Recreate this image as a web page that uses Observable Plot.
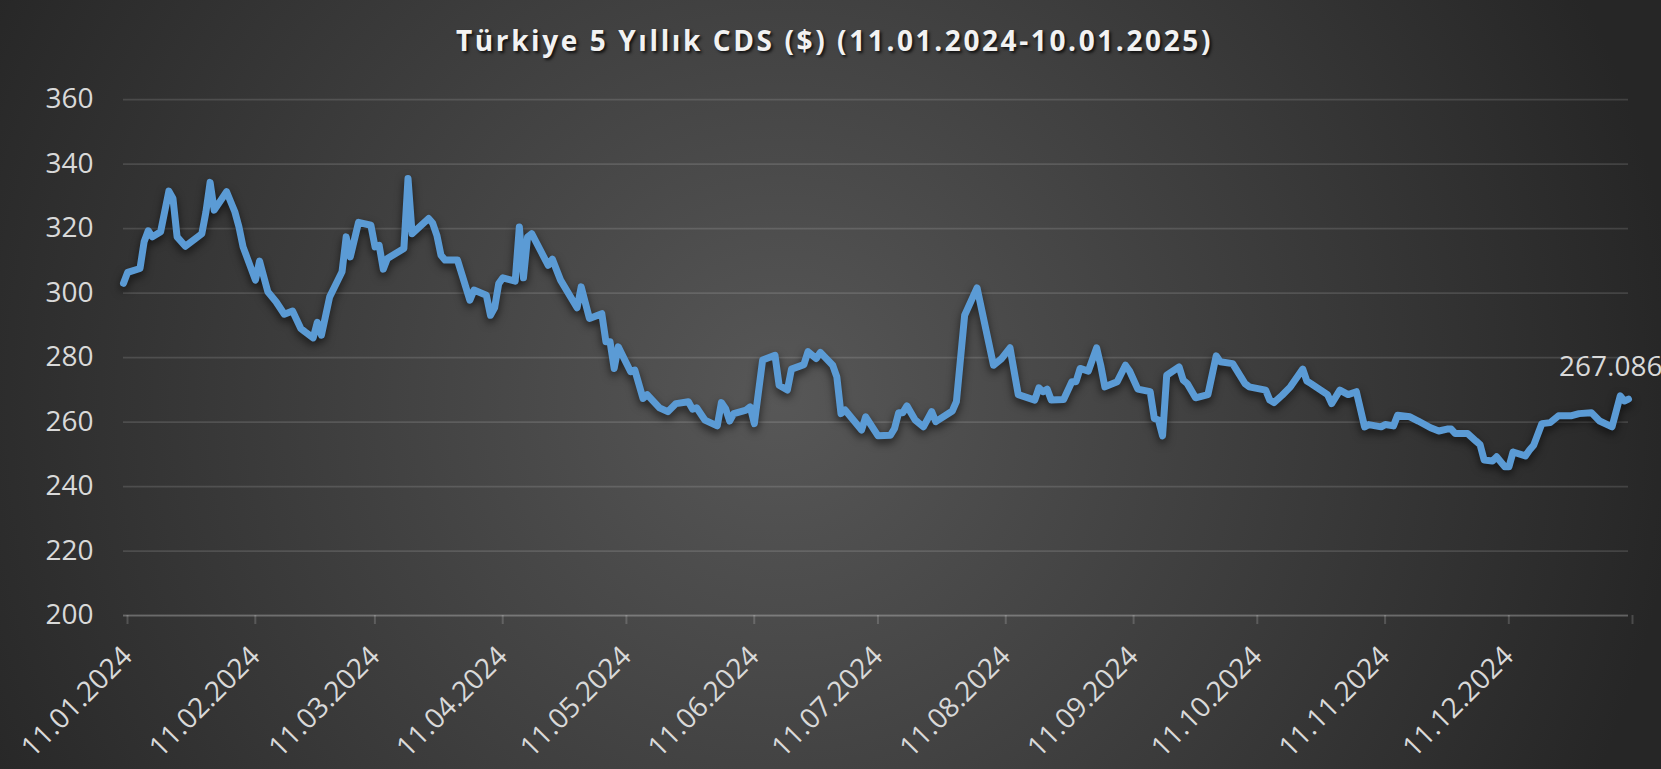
<!DOCTYPE html>
<html><head><meta charset="utf-8">
<script src="https://cdn.jsdelivr.net/npm/d3@7"></script>
<script src="https://cdn.jsdelivr.net/npm/@observablehq/plot@0.6"></script>
<style>
html,body{margin:0;padding:0;background:#262626;}
#chart{position:relative;width:1661px;height:769px;overflow:hidden;
 background: radial-gradient(ellipse 900px 900px at 780px 400px, #575757 0%, #262626 100%);
 font-family:"Open Sans",sans-serif;}
#title{position:absolute;left:4px;width:1661px;top:21px;text-align:center;color:#f2f2f2;font-weight:700;font-size:28px;letter-spacing:2.6px;text-shadow:2px 2px 3px rgba(0,0,0,.75);white-space:nowrap;}
.cdsline path{filter:drop-shadow(0px 4px 4px rgba(0,0,0,0.6));}
svg{display:block;}
</style></head><body>
<div id="chart"><div id="title">Türkiye 5 Yıllık CDS ($) (11.01.2024-10.01.2025)</div></div>
<script>
const dates = [
"2024-01-11","2024-01-12","2024-01-15","2024-01-16","2024-01-17","2024-01-18","2024-01-20","2024-01-22","2024-01-23","2024-01-24",
"2024-01-26","2024-01-30","2024-01-31","2024-02-01","2024-02-02","2024-02-05","2024-02-07","2024-02-08","2024-02-09","2024-02-12",
"2024-02-13","2024-02-15","2024-02-17","2024-02-19","2024-02-21","2024-02-23","2024-02-24","2024-02-26","2024-02-27","2024-02-28",
"2024-03-01","2024-03-04","2024-03-05","2024-03-06","2024-03-08","2024-03-11","2024-03-12","2024-03-13","2024-03-14","2024-03-15",
"2024-03-19","2024-03-20","2024-03-21","2024-03-25","2024-03-26","2024-03-27","2024-03-28","2024-03-29","2024-04-01","2024-04-04",
"2024-04-05","2024-04-08","2024-04-09","2024-04-10","2024-04-11","2024-04-12","2024-04-15","2024-04-16","2024-04-17","2024-04-18",
"2024-04-19","2024-04-23","2024-04-24","2024-04-26","2024-04-30","2024-05-01","2024-05-03","2024-05-06","2024-05-07","2024-05-08",
"2024-05-09","2024-05-10","2024-05-13","2024-05-14","2024-05-16","2024-05-17","2024-05-20","2024-05-22","2024-05-24","2024-05-27",
"2024-05-28","2024-05-29","2024-05-31","2024-06-03","2024-06-04","2024-06-05","2024-06-06","2024-06-07","2024-06-10","2024-06-11",
"2024-06-12","2024-06-14","2024-06-17","2024-06-18","2024-06-20","2024-06-21","2024-06-24","2024-06-25","2024-06-27","2024-06-28",
"2024-07-01","2024-07-02","2024-07-03","2024-07-04","2024-07-08","2024-07-09","2024-07-12","2024-07-15","2024-07-16","2024-07-17",
"2024-07-18","2024-07-19","2024-07-21","2024-07-23","2024-07-25","2024-07-26","2024-07-30","2024-07-31","2024-08-02","2024-08-05",
"2024-08-09","2024-08-11","2024-08-13","2024-08-15","2024-08-19","2024-08-20","2024-08-21","2024-08-22","2024-08-23","2024-08-26",
"2024-08-28","2024-08-29","2024-08-30","2024-09-01","2024-09-03","2024-09-04","2024-09-05","2024-09-08","2024-09-10","2024-09-11",
"2024-09-13","2024-09-16","2024-09-17","2024-09-18","2024-09-19","2024-09-20","2024-09-23","2024-09-24","2024-09-25","2024-09-27",
"2024-09-30","2024-10-01","2024-10-02","2024-10-03","2024-10-06","2024-10-09","2024-10-10","2024-10-14","2024-10-15","2024-10-16",
"2024-10-18","2024-10-20","2024-10-23","2024-10-24","2024-10-25","2024-10-29","2024-10-30","2024-11-01","2024-11-03","2024-11-05",
"2024-11-07","2024-11-08","2024-11-11","2024-11-12","2024-11-14","2024-11-15","2024-11-18","2024-11-20","2024-11-23","2024-11-25",
"2024-11-27","2024-11-28","2024-11-29","2024-12-02","2024-12-04","2024-12-05","2024-12-06","2024-12-08","2024-12-09","2024-12-11",
"2024-12-12","2024-12-13","2024-12-16","2024-12-17","2024-12-18","2024-12-20","2024-12-22","2024-12-24","2024-12-27","2024-12-29",
"2025-01-01","2025-01-03","2025-01-06","2025-01-08","2025-01-09","2025-01-10"
];
const values = [
303.0,306.4,307.6,315.9,319.3,317.4,319.0,331.6,329.3,317.4,
314.5,318.4,325.2,334.3,325.7,331.4,325.2,320.5,314.3,304.0,
309.9,300.4,297.3,293.4,294.4,289.0,288.0,286.1,290.9,286.9,
298.8,306.6,317.4,311.2,321.9,321.0,314.3,314.8,307.4,310.7,
313.8,335.5,318.4,323.1,321.6,317.9,311.7,310.2,310.2,297.8,
300.9,299.3,293.1,295.4,302.9,304.7,303.7,320.5,304.7,317.4,
318.4,308.6,310.5,304.0,295.4,301.9,292.1,293.6,284.9,284.9,
276.6,283.3,275.6,276.1,267.3,268.5,264.4,263.2,265.7,266.3,
264.0,264.4,260.6,258.8,266.0,264.2,260.3,262.6,263.7,264.7,
259.5,279.2,280.7,271.4,269.9,276.4,277.8,281.8,279.7,281.6,
277.6,274.0,262.6,263.7,257.5,261.6,255.7,255.9,258.0,262.9,
262.9,265.0,260.6,258.5,263.2,260.1,263.4,266.3,293.1,301.6,
277.6,279.7,283.0,268.5,266.8,270.6,269.4,270.2,266.8,267.0,
272.5,272.5,276.6,275.8,283.0,277.6,270.9,272.5,277.6,275.8,
270.2,269.4,261.1,260.6,255.7,274.5,277.1,273.0,271.9,267.5,
268.5,274.5,280.5,278.7,278.1,271.9,270.9,269.9,266.8,266.0,
268.3,270.9,276.4,272.7,271.9,268.5,265.7,269.9,268.5,269.4,
258.5,259.2,258.5,259.2,258.8,262.1,261.6,260.3,258.2,257.2,
257.8,257.8,256.4,256.4,254.1,253.0,248.2,247.9,249.2,246.1,
246.1,250.7,249.5,251.3,252.8,259.5,259.8,261.9,261.9,262.6,
262.9,260.3,258.5,268.1,266.5,267.086
];
const yTicks = [200,220,240,260,280,300,320,340,360];
const xTickDates = ["2024-01-11","2024-02-11","2024-03-11","2024-04-11","2024-05-11","2024-06-11",
  "2024-07-11","2024-08-11","2024-09-11","2024-10-11","2024-11-11","2024-12-11"];
const axisStart = "2024-01-11";
const axisEnd = "2025-01-10";
const lastLabel = "267.086";

const data = dates.map((d, i) => ({date: new Date(d), value: values[i]}));
const fmt = d3.utcFormat("%d.%m.%Y");
const endDate = new Date(axisEnd);
const tickList = xTickDates.map(d => new Date(d)).concat([endDate]);

const chart = Plot.plot({
  width: 1661, height: 769,
  marginTop: 99, marginBottom: 154, marginLeft: 123, marginRight: 33,
  style: {background: "transparent", color: "#d9d9d9", fontFamily: "'Open Sans', sans-serif", fontSize: "28px", overflow: "visible"},
  x: {type: "utc", domain: [new Date(axisStart), endDate]},
  y: {domain: [200, 360]},
  marks: [
    Plot.gridY(yTicks, {stroke: "#ffffff", strokeOpacity: 0.13, strokeWidth: 1.75}),
    Plot.axisY(yTicks, {tickSize: 0, tickPadding: 30, fontSize: 28, fill: "#d9d9d9", label: null}),
    Plot.ruleY([200], {stroke: "#ffffff", strokeOpacity: 0.17, strokeWidth: 2}),
    Plot.axisX(tickList, {tickSize: 9, tickRotate: -45, tickPadding: 27, dx: 4,
      tickFormat: d => (d.getTime() === endDate.getTime() ? "" : fmt(d)),
      stroke: "#ffffff", strokeOpacity: 0.17, strokeWidth: 2, fill: "#d9d9d9", fontSize: 28, label: null}),
    Plot.line(data, {x: "date", y: "value", stroke: "#5b9bd5", strokeWidth: 7,
      strokeLinejoin: "round", strokeLinecap: "round", className: "cdsline"}),
    Plot.text([data[data.length - 1]], {x: "date", y: "value", text: () => lastLabel,
      textAnchor: "end", dx: 34, dy: -32, fill: "#d9d9d9", fontSize: 28})
  ]
});
document.getElementById("chart").appendChild(chart);
</script>
</body></html>
